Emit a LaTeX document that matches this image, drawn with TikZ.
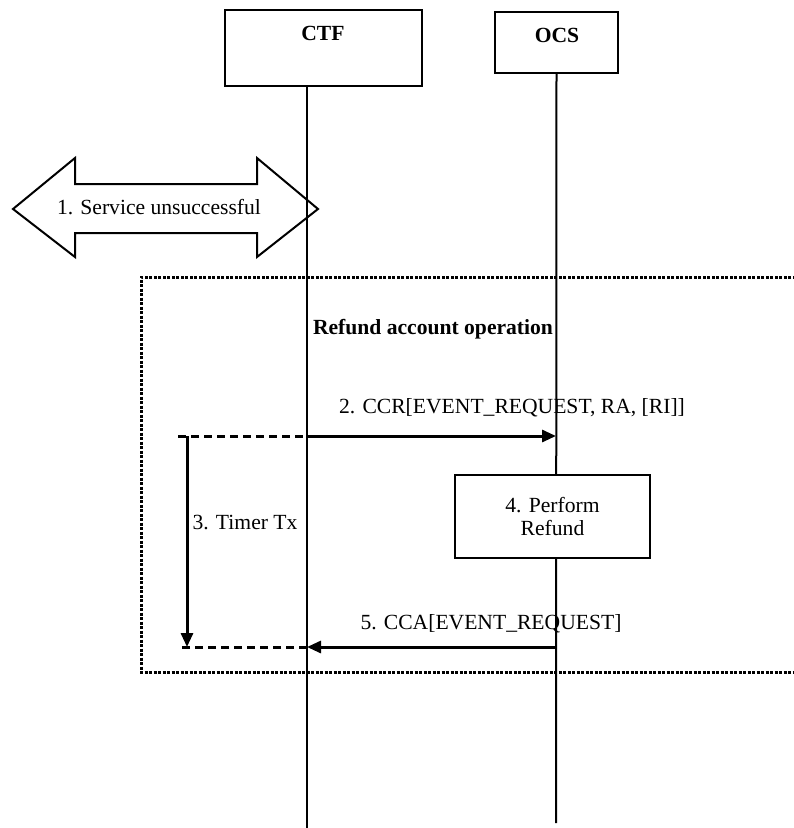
\documentclass[tikz,border=0pt]{standalone}
\usepackage{fontspec}
\setmainfont{Liberation Serif}
\usetikzlibrary{arrows.meta}

\begin{document}
\begin{tikzpicture}[x=1pt,y=-1pt,
  every node/.style={font=\fontsize{21.6}{23}\selectfont, inner sep=0pt},
  heading/.style={font=\fontsize{21.6}{23}\selectfont\bfseries},
  entity/.style={draw, line width=2pt, fill=white},
  life/.style={line width=2pt},
  msg/.style={line width=3pt, -{Triangle[length=14pt,width=12pt]}},
  wait/.style={line width=3pt, dash pattern=on 8pt off 5pt},
  frame/.style={line width=3pt, dash pattern=on 3pt off 1.5pt}]
  \pgfmathsetmacro{\ctfX}{307}
  \pgfmathsetmacro{\ocsX}{556}
  \pgfmathsetmacro{\ccrY}{436}
  \pgfmathsetmacro{\ccaY}{647}
  \pgfmathsetmacro{\timerX}{187}
  \pgfmathsetmacro{\waitX}{178}

  \useasboundingbox (0,0) rectangle (794,828);

  % Rahmen
  \draw[frame] (800,277) -- (141,277) -- (141,672) -- (800,672);
  \node[heading] (refundop) at (433,329) {Refund account operation};

  % Instanzen
  \node[entity, minimum width=197pt, minimum height=76pt] (ctf) at (323.5,48) {};
  \node[heading] (ctflabel) at (323,33) {CTF};
  \node[entity, minimum width=123pt, minimum height=61pt] (ocs) at (556.5,42.5) {};
  \node[heading] (ocslabel) at (557,35) {OCS};

  % Lebenslinien
  \coordinate (ctfend) at (\ctfX,828);
  \coordinate (ocsend) at (\ocsX,823);
  \draw[life] (ctf.south -| ctfend) -- (ctfend);
  \draw[life] (ocs.south) -- (ocsend);

  % 1. Dienst
  \draw[line width=2pt] (13,209) -- (75,158) -- (75,184) -- (257,184) -- (257,158)
    -- (318,209) -- (257,257) -- (257,233) -- (75,233) -- (75,257) -- cycle;
  \node (service) at (159,207) {1. Service unsuccessful};

  % 2. CCR
  \coordinate (ccrwait) at (\waitX,\ccrY);
  \coordinate (ccrctf) at (\ctfX,\ccrY);
  \coordinate (ccrocs) at (\ocsX,\ccrY);
  \draw[wait] (ccrwait) -- (ccrctf);
  \draw[msg] (ccrctf) -- (ccrocs);
  \node (ccr) at (512,408) {2. CCR[EVENT\_REQUEST, RA, [RI]]};

  % 3. Timer
  \coordinate (timertop) at (\timerX,\ccrY);
  \coordinate (timerend) at (\timerX,\ccaY);
  \draw[msg] (timertop) -- (timerend);
  \node (timer) at (245,522) {3. Timer Tx};

  % 4. Refund
  \node[entity, minimum width=195pt, minimum height=83pt, align=center] (refund)
    at (552.5,516.5) {4. Perform\\Refund};

  % 5. CCA
  \coordinate (ccawait) at (\waitX,\ccaY);
  \coordinate (ccactf) at (\ctfX,\ccaY);
  \coordinate (ccaocs) at (\ocsX,\ccaY);
  \draw[msg] (ccaocs) -- (ccactf);
  \draw[wait] (ccactf) -- (ccawait);
  \node (cca) at (491,624) {5. CCA[EVENT\_REQUEST]};
\end{tikzpicture}
\end{document}
